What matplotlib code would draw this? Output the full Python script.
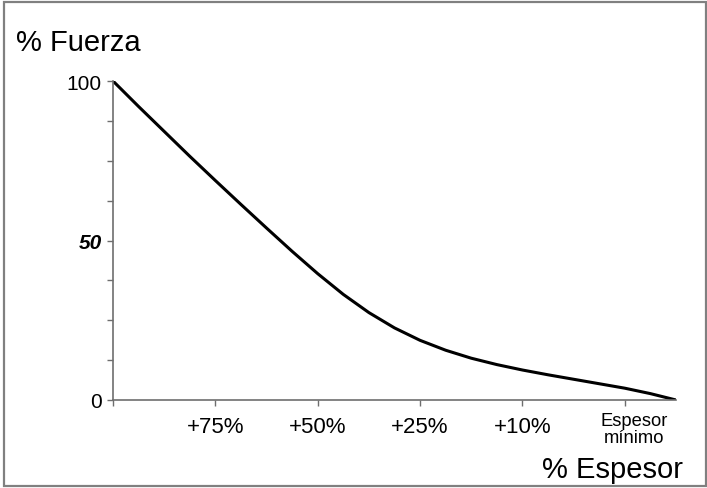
import matplotlib.pyplot as plt
import matplotlib.transforms as mtransforms
from matplotlib.patches import Rectangle

# curve (x: tick positions 1..5 = +75% .. espesor minimo)
espesor = [0, 0.25, 0.5, 0.75, 1.0, 1.25, 1.5, 1.75, 2.0, 2.25, 2.5, 2.75,
           3.0, 3.25, 3.5, 3.75, 4.0, 4.25, 4.5, 4.75, 5.0, 5.25, 5.5]
fuerza = [100, 92.0, 84.2, 76.4, 68.8, 61.3, 53.9, 46.6, 39.6, 33.1, 27.4, 22.6,
          18.7, 15.6, 13.1, 11.1, 9.4, 7.9, 6.5, 5.1, 3.7, 2.0, 0]

x_ticks = [0, 1, 2, 3, 4, 5]
x_labels = ['', '+75%', '+50%', '+25%', '+10%', 'Espesor\nmínimo']
y_ticks = [0, 12.5, 25, 37.5, 50, 62.5, 75, 87.5, 100]
y_labels = ['0', '', '', '', '50', '', '', '', '100']

plt.rcParams['font.family'] = ['Liberation Sans', 'DejaVu Sans']

W, H = 707, 489
fig = plt.figure(figsize=(W / 100, H / 100), dpi=100)
ax = fig.add_axes([113 / W, 1 - 401 / H, (676 - 113) / W, (401 - 82) / H])

ax.plot(espesor, fuerza, color='black', lw=2.2, solid_capstyle='butt',
        solid_joinstyle='round')
ax.set_xlim(0, 5.5)
ax.set_ylim(0, 100)

for s in ['top', 'right']:
    ax.spines[s].set_visible(False)
for s in ['left', 'bottom']:
    ax.spines[s].set_color('#6e6e6e')
    ax.spines[s].set_linewidth(1.2)

ax.set_xticks(x_ticks)
ax.set_xticklabels(x_labels)
ax.set_yticks(y_ticks)
ax.set_yticklabels(y_labels)
ax.tick_params(axis='both', colors='#6e6e6e', length=4.5, width=1.0,
               labelcolor='black')
ax.tick_params(axis='y', pad=3.5, labelsize=15)
ax.tick_params(axis='x', pad=7, labelsize=16)

for lbl in ax.get_yticklabels():
    if lbl.get_text() == '50':
        lbl.set_fontweight('bold')
        lbl.set_fontstyle('italic')

last = ax.get_xticklabels()[-1]
last.set_fontsize(13.2)
last.set_linespacing(1.0)
last.set_transform(last.get_transform() +
                   mtransforms.ScaledTranslation(9 / 100, 4 / 100, fig.dpi_scale_trans))

fig.text(16 / W, 1 - 51 / H, '% Fuerza', fontsize=21, ha='left', va='baseline')
fig.text(683 / W, 1 - 478 / H, '% Espesor', fontsize=21, ha='right', va='baseline')

fig.patches.append(Rectangle((4 / W, 1 - 487 / H), (706 - 4) / W, (487 - 3) / H,
                             transform=fig.transFigure, fill=False,
                             edgecolor='#808080', lw=1.6))

fig.savefig('out.png', dpi=100)
